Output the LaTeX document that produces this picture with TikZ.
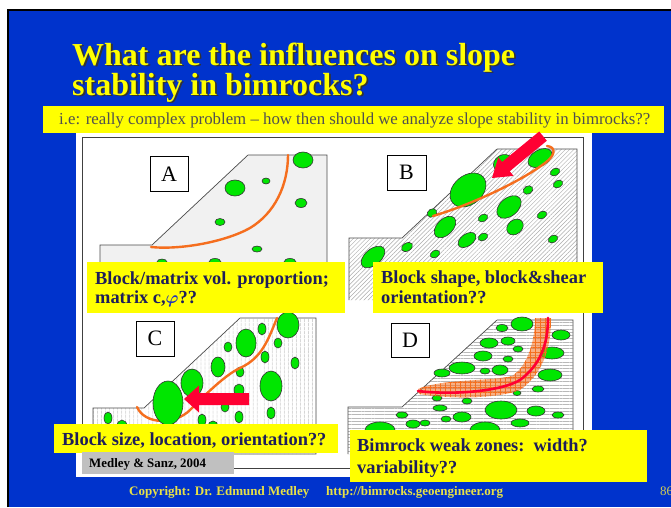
\documentclass[tikz,border=0pt]{standalone}
\usepackage{amsmath}
\usepackage{fontspec}
\setmainfont{Liberation Serif}
\usetikzlibrary{patterns.meta}

\definecolor{slideblue}{RGB}{0,51,204}
\definecolor{hiyellow}{RGB}{255,255,0}
\definecolor{navytext}{RGB}{30,30,90}
\definecolor{phiblue}{RGB}{30,50,190}
\definecolor{bannertext}{RGB}{80,80,80}
\definecolor{blobgreen}{RGB}{0,230,0}
\definecolor{slipred}{RGB}{255,0,51}
\definecolor{sliporange}{RGB}{245,110,30}
\definecolor{copyyellow}{RGB}{232,225,70}
\definecolor{notegrey}{RGB}{192,192,192}

\tikzset{
  blob/.style={fill=blobgreen, draw=black!80, line width=0.6pt},
  slip/.style={draw=sliporange, line width=2.4pt, line cap=round},
  arrowbody/.style={fill=slipred},
  body/.style={draw=black!70, line width=0.7pt},
  letterbox/.style={draw=black, line width=0.8pt, fill=white, inner sep=0pt,
    minimum width=38pt, minimum height=35pt, font=\fontsize{22}{22}\selectfont},
  titletext/.style={anchor=base west, inner sep=0pt, font=\fontsize{32}{32}\selectfont\bfseries},
  labeltext/.style={anchor=base west, inner sep=0pt, text=navytext,
    font=\fontsize{18.4}{20}\selectfont\bfseries},
  foottext/.style={anchor=base west, inner sep=0pt, text=copyyellow,
    font=\fontsize{13}{13}\selectfont\bfseries},
}

% an outlined rock block: centre x, centre y, x radius, y radius, tilt
\newcommand\bimblob[5]{\draw[blob, rotate around={#5:(#1,#2)}] (#1,#2) ellipse [x radius=#3, y radius=#4];}

\begin{document}
\begin{tikzpicture}[x=1pt, y=-1pt]
\useasboundingbox (0,0) rectangle (671,507);

% slide background
\fill[white] (0,0) rectangle (671,507);
\fill[slideblue] (8,10) rectangle (671,507);
\draw[black, line width=1.5pt] (8,507) -- (8,10) -- (671,10);

% title with drop shadow
\node[titletext, text=black!80] (title1s) at (73.8,66.8) {What are the influences on slope};
\node[titletext, text=black!80] (title2s) at (73.8,96.8) {stability in bimrocks?};
\node[titletext, text=hiyellow] (title1) at (72,65) {What are the influences on slope};
\node[titletext, text=hiyellow] (title2) at (72,95) {stability in bimrocks?};

% subtitle banner
\fill[hiyellow] (43,106) rectangle (664,133);
\node[anchor=base west, inner sep=0pt, text=bannertext, font=\fontsize{16.8}{17}\selectfont]
  (banner) at (59,124) {i.e: really complex problem -- how then should we analyze slope stability in bimrocks??};

% figure sheet and frame
\fill[white] (76,133) rectangle (592,477);
\draw[black!75, line width=1pt] (82,137) rectangle (583,468);

% ---------- A : homogeneous matrix ----------
\fill[gray!11] (248,155) -- (327,155) -- (327,300) -- (100,300) -- (100,245) -- (152,245) -- cycle;
\draw[body] (248,155) -- (327,155) -- (327,300) (100,300) -- (100,245) -- (152,245) -- (248,155);
\bimblob{303}{160}{10}{8}{0}
\bimblob{235}{188}{10}{8}{0}
\bimblob{266}{181}{4}{3}{0}
\bimblob{301}{203}{6}{4.5}{0}
\bimblob{220}{222}{5}{3.5}{0}
\bimblob{257}{249}{5}{3}{0}
\bimblob{162}{262}{5}{3}{0}
\bimblob{215}{262}{6}{3.5}{0}
\bimblob{290}{262}{6}{3.5}{0}
\draw[slip] (151,247) .. controls (180,250) and (225,242) .. (250,228)
            .. controls (275,213) and (288,185) .. (288,155);
\node[letterbox] (boxA) at (169,174) {A};

% ---------- B : inclined blocks ----------
\path[pattern={Lines[angle=45, distance=3pt, line width=0.45pt]}, pattern color=gray!65]
  (497,149) -- (577,149) -- (577,300) -- (349,300) -- (349,238) -- (402,238) -- cycle;
\draw[body] (497,149) -- (577,149) -- (577,300) (349,300) -- (349,238) -- (402,238) -- (497,149);
\bimblob{468}{190}{20}{14.5}{40}
\bimblob{503}{163}{10}{8}{30}
\bimblob{540}{158}{13}{8}{30}
\bimblob{555}{172}{5}{3.5}{30}
\bimblob{558}{184}{5}{3.5}{30}
\bimblob{528}{190}{5}{4}{30}
\bimblob{509}{207}{14}{9}{40}
\bimblob{432}{213}{5}{4}{30}
\bimblob{542}{215}{5}{3.5}{30}
\bimblob{483}{218}{5}{3.5}{30}
\bimblob{445}{227}{13}{8}{45}
\bimblob{515}{227}{9}{7}{40}
\bimblob{483}{237}{5}{3.5}{30}
\bimblob{467}{240}{10}{6}{35}
\bimblob{553}{239}{5}{3.5}{30}
\bimblob{407}{247}{6}{4}{30}
\bimblob{435}{254}{5}{3.5}{30}
\bimblob{373}{257}{14}{8}{40}
\draw[slip] (433,216) .. controls (470,205) and (520,182) .. (545,163)
            .. controls (556,155) and (556,147) .. (547,146);
\begin{scope}[shift={(492,178)}, rotate=39.4]
  \fill[arrowbody] (0,0) -- (18,-12) -- (18,-6) -- (66,-6) -- (66,6) -- (18,6) -- (18,12) -- cycle;
\end{scope}
\node[letterbox, minimum width=39pt] (boxB) at (406.5,172.5) {B};

% ---------- C : block size ----------
\path[pattern={Lines[angle=90, distance=4pt, line width=0.45pt]}, pattern color=gray!55]
  (240,318) -- (316,318) -- (316,454) -- (93,454) -- (93,408) -- (144,408) -- cycle;
\draw[body] (240,318) -- (316,318) -- (316,454) -- (93,454) -- (93,408) -- (144,408) -- cycle;
\bimblob{288}{325}{11}{13}{0}
\bimblob{246}{343}{10}{14}{0}
\bimblob{262}{329}{4}{6}{0}
\bimblob{278}{343}{4}{5}{0}
\bimblob{228}{347}{4}{5}{0}
\bimblob{218}{367}{7}{10}{0}
\bimblob{265}{357}{4}{6}{0}
\bimblob{240}{372}{4}{5}{0}
\bimblob{295}{363}{4}{6}{0}
\bimblob{271}{386}{11}{15}{0}
\bimblob{239}{390}{5}{6}{0}
\bimblob{225}{407}{4}{5}{0}
\bimblob{271}{413}{4}{6}{0}
\bimblob{239}{417}{4}{6}{0}
\bimblob{202}{420}{4}{6}{0}
\bimblob{108}{418}{4}{6}{0}
\bimblob{122}{426}{5}{6}{0}
\bimblob{213}{426}{5}{5}{0}
\draw[slip] (137,407) .. controls (145,425) and (175,425) .. (190,410)
            .. controls (205,395) and (225,375) .. (240,368)
            .. controls (262,358) and (268,340) .. (277,318);
\bimblob{192}{383}{11}{14}{0}
\bimblob{168}{403}{15}{22}{0}
\fill[arrowbody] (184,399) -- (199,385.5) -- (199,393) -- (249,393) -- (249,405) -- (199,405) -- (199,412.5) -- cycle;
\node[letterbox] (boxC) at (155,338.5) {C};

% ---------- D : weak zone ----------
\path[pattern={Lines[angle=0, distance=3.3pt, line width=0.45pt]}, pattern color=gray!55]
  (497,320) -- (573,320) -- (573,454) -- (348,454) -- (348,407) -- (402,407) -- cycle;
\draw[body] (497,320) -- (573,320) -- (573,454) (348,454) -- (348,407) -- (402,407) -- (497,320);
\bimblob{522}{324}{11}{7}{0}
\bimblob{502}{328}{6}{3.5}{0}
\bimblob{561}{335}{9}{5}{0}
\bimblob{489}{343}{9}{5}{0}
\bimblob{508}{341}{7}{4}{0}
\bimblob{518}{349}{5}{3}{0}
\bimblob{552}{353}{12}{6}{0}
\bimblob{483}{356}{9}{5}{0}
\bimblob{508}{359}{5}{3}{0}
\bimblob{462}{368}{13}{6}{0}
\bimblob{485}{371}{5}{3}{0}
\bimblob{500}{370}{8}{5}{0}
\bimblob{442}{373}{8}{4}{0}
\bimblob{550}{375}{12}{6}{0}
\bimblob{538}{389}{6}{3}{0}
\bimblob{517}{393}{4}{2.5}{0}
\bimblob{437}{398}{5}{3}{0}
\bimblob{467}{401}{5}{3}{0}
\bimblob{501}{410}{16}{9}{0}
\bimblob{536}{411}{9}{5}{0}
\bimblob{558}{415}{6}{3}{0}
\bimblob{440}{408}{7}{3}{0}
\bimblob{462}{417}{9}{5}{0}
\bimblob{402}{415}{6}{3}{0}
\bimblob{446}{419}{5}{3}{0}
\bimblob{413}{424}{7}{4}{0}
\bimblob{425}{423}{5}{3}{0}
\bimblob{520}{423}{9}{4}{0}
\bimblob{485}{430}{15}{8}{0}
\bimblob{380}{430}{15}{8}{0}
\path[fill=sliporange, fill opacity=0.55]
  (418,389) .. controls (440,379) and (495,381) .. (512,376)
  .. controls (528,366) and (535,340) .. (535,318) -- (551,318)
  .. controls (551,345) and (545,372) .. (520,390)
  .. controls (495,400) and (440,398) .. (419,394) -- cycle;
\path[pattern={Hatch[distance=5pt, line width=0.5pt]}, pattern color=sliporange]
  (418,389) .. controls (440,379) and (495,381) .. (512,376)
  .. controls (528,366) and (535,340) .. (535,318) -- (551,318)
  .. controls (551,345) and (545,372) .. (520,390)
  .. controls (495,400) and (440,398) .. (419,394) -- cycle;
\draw[slipred, line width=2.6pt, line cap=round]
  (418,391) .. controls (450,395) and (500,392) .. (520,380)
  .. controls (540,365) and (548,345) .. (548,318);
\node[letterbox, minimum height=34pt] (boxD) at (410,340) {D};

% ---------- captions ----------
\fill[hiyellow] (87,262) rectangle (345,313);
\node[labeltext] (capA1) at (95,284) {Block/matrix vol. proportion;};
\node[labeltext] (capA2) at (95,303.5) {matrix c,{\color{phiblue}$\boldsymbol{\varphi}$}??};

\fill[hiyellow] (373,262) rectangle (603,313);
\node[labeltext] (capB1) at (381,283.5) {Block shape, block\&shear};
\node[labeltext] (capB2) at (381,303.5) {orientation??};

\fill[hiyellow] (54,424) rectangle (338,453);
\node[labeltext] (capC) at (62,445) {Block size, location, orientation??};

\fill[notegrey] (82,452) rectangle (234,474);
\node[anchor=base west, inner sep=0pt, font=\fontsize{12.9}{13}\selectfont\bfseries]
  (source) at (89,467) {Medley \& Sanz, 2004};

\fill[hiyellow] (350,430) rectangle (647,482);
\node[labeltext] (capD1) at (357,451) {Bimrock weak zones:\ \ width?};
\node[labeltext] (capD2) at (357,473) {variability??};

% footer
\node[foottext] (copy) at (129,495) {Copyright: Dr. Edmund Medley};
\node[foottext] (url) at (326,495) {http://bimrocks.geoengineer.org};
\node[anchor=base west, inner sep=0pt, text=copyyellow!80!gray, font=\fontsize{13}{13}\selectfont]
  (pageno) at (660,495) {86};
\end{tikzpicture}
\end{document}
